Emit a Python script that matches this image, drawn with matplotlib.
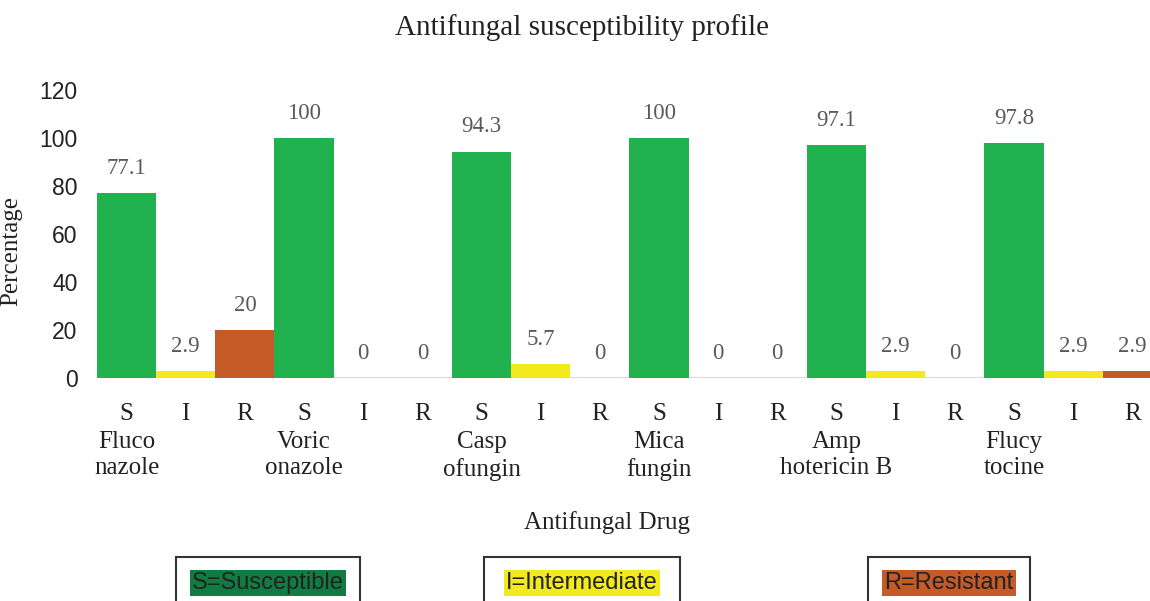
import matplotlib.pyplot as plt
from matplotlib.patches import Rectangle

drugs = ["Fluco\nnazole", "Voric\nonazole", "Casp\nofungin", "Mica\nfungin",
         "Amp\nhotericin B", "Flucy\ntocine"]
cats = ["S", "I", "R"]
susceptible = [77.1, 100, 94.3, 100, 97.1, 97.8]
intermediate = [2.9, 0, 5.7, 0, 2.9, 2.9]
resistant = [20, 0, 0, 0, 0, 2.9]
legend_labels = ["S=Susceptible", "I=Intermediate", "R=Resistant"]

bar_colors = {"S": "#21B24F", "I": "#F2EA1B", "R": "#C45A27"}
leg_colors = ["#107C41", "#F2EA1B", "#C45A27"]

serif = ["Liberation Serif", "DejaVu Serif"]
sans = ["Liberation Sans", "DejaVu Sans"]

W, H = 1150, 601
fig = plt.figure(figsize=(W / 100, H / 100), dpi=100)
# axes: left 97px, top 90px, bottom 378px, right at image edge
ax = fig.add_axes([97 / W, 1 - 378 / H, 1 - 97 / W, (378 - 90) / H])

xs, vals, cols, ticklabs = [], [], [], []
for i in range(len(drugs)):
    for j, (c, v) in enumerate(zip(cats, [susceptible[i], intermediate[i], resistant[i]])):
        xs.append(i * 3 + j)
        vals.append(v)
        cols.append(bar_colors[c])
        ticklabs.append(c)

ax.bar(xs, vals, width=1.0, color=cols, zorder=2)
for x, v in zip(xs, vals):
    ax.text(x, v + 6.0, f"{v:g}", ha="center", va="bottom", fontsize=16.5,
            color="#595959", family=serif)

ax.set_ylim(0, 120)
ax.set_xlim(-0.5, 17.3)
ax.set_yticks(range(0, 121, 20))
ax.set_yticklabels([str(t) for t in range(0, 121, 20)], family=sans, fontsize=16.5, color="#222222")
ax.set_xticks(xs)
ax.set_xticklabels(ticklabs, family=serif, fontsize=18, color="#222222")
ax.tick_params(axis="both", length=0)
ax.tick_params(axis="x", pad=18)
ax.tick_params(axis="y", pad=14)
for s in ["top", "right", "left", "bottom"]:
    ax.spines[s].set_visible(False)
ax.axhline(0, color="#D9D9D9", lw=1.5, zorder=1)

# drug names under the S position
for i, d in enumerate(drugs):
    ax.text(i * 3, -22, d, ha="center", va="top", fontsize=18, family=serif,
            color="#222222", linespacing=1.27, transform=ax.transData)

ax.set_ylabel("Percentage", family=serif, fontsize=18, color="#222222")
ax.yaxis.set_label_coords(-(97 - 22) / (W - 97), 0.44)

fig.text(582 / W, 1 - 28 / H, "Antifungal susceptibility profile", ha="center", va="center",
         family=serif, fontsize=21, color="#222222")
fig.text(607 / W, 1 - 523 / H, "Antifungal Drug", ha="center", va="center",
         family=serif, fontsize=18, color="#222222")

# legend boxes at the bottom
boxes = [(176, 360), (484, 680), (868, 1030)]
for (x0, x1), lab, c in zip(boxes, legend_labels, leg_colors):
    fig.patches.append(Rectangle((x0 / W, -0.02), (x1 - x0) / W, (H - 557) / H + 0.02,
                                 transform=fig.transFigure, facecolor="white",
                                 edgecolor="#333333", lw=1.5))
    fig.text((x0 + x1) / 2 / W, 1 - 583 / H, lab, ha="center", va="center", family=sans,
             fontsize=17, color="#222222",
             bbox=dict(boxstyle="square,pad=0.08", facecolor=c, edgecolor="none"))

fig.savefig("out.png", dpi=100)
